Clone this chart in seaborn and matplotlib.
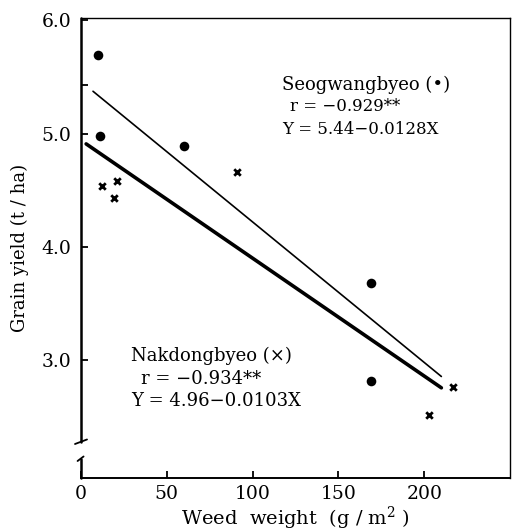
import matplotlib
matplotlib.use("Agg")
import matplotlib.pyplot as plt
import matplotlib.transforms as mtransforms
import numpy as np
import pandas as pd
import seaborn as sns

# Data
seog_x = [10, 11, 60, 169, 169]
seog_y = [5.69, 4.98, 4.89, 3.68, 2.82]
nak_x = [12, 19, 21, 91, 203, 217]
nak_y = [4.54, 4.43, 4.58, 4.66, 2.52, 2.76]

# Regression lines as drawn in the figure (intercept, slope)
seog_a, seog_b = 5.46, -0.0124
nak_a, nak_b = 4.94, -0.0104
seog_x_range = [7, 210]
nak_x_range = [3, 210]

xticks = [0, 50, 100, 150, 200]
yticks = [3.0, 4.0, 5.0, 6.0]
intercept_tick = [5.43]

sns.set_theme(style="white")
plt.rcParams["font.family"] = ["DejaVu Serif"]
plt.rcParams["mathtext.fontset"] = "dejavuserif"
for k in ["text.color", "axes.labelcolor", "xtick.color", "ytick.color"]:
    plt.rcParams[k] = "black"

fig = plt.figure(figsize=(5.18, 5.31), dpi=100)
ax = fig.add_axes([81/518, 1-478/531, (510-81)/518, (478-18)/531])

df_s = pd.DataFrame({"x": seog_x, "y": seog_y})
df_n = pd.DataFrame({"x": nak_x, "y": nak_y})
ls = pd.DataFrame({"x": seog_x_range, "y": [seog_a + seog_b*v for v in seog_x_range]})
ln = pd.DataFrame({"x": nak_x_range, "y": [nak_a + nak_b*v for v in nak_x_range]})

sns.lineplot(data=ls, x="x", y="y", ax=ax, color="black", lw=1.2)
sns.lineplot(data=ln, x="x", y="y", ax=ax, color="black", lw=2.6)
sns.scatterplot(data=df_s, x="x", y="y", ax=ax, color="black", marker="o", s=48, edgecolor="black", linewidth=0)
sns.scatterplot(data=df_n, x="x", y="y", ax=ax, color="black", marker="x", s=22, linewidth=2)

ax.set_xlim(0, 250)
ax.set_ylim(1.96, 6.02)
ax.set_xticks(xticks)
ax.set_yticks(yticks)
ax.set_yticks(intercept_tick, minor=True)
ax.set_xticklabels([str(t) for t in xticks])
ax.set_yticklabels([f"{t:.1f}" for t in yticks])
ax.tick_params(axis="both", which="both", direction="in", length=5, width=1.3,
               colors="black", labelsize=13.5, bottom=True, left=True)
ax.tick_params(axis="x", pad=5)
ax.tick_params(axis="y", pad=7)

for sp in ["top", "right"]:
    ax.spines[sp].set_color("black")
    ax.spines[sp].set_linewidth(1.0)
ax.spines["bottom"].set_color("black")
ax.spines["bottom"].set_linewidth(1.4)
ax.spines["left"].set_visible(False)

# left spine with break
tr = mtransforms.blended_transform_factory(ax.transAxes, ax.transData)
ax.plot([0, 0], [2.28, 6.02], transform=tr, color="black", lw=1.8, clip_on=False)
ax.plot([0, 0], [1.96, 2.13], transform=tr, color="black", lw=1.8, clip_on=False)
ax.plot([-0.014, 0.014], [2.26, 2.30], transform=tr, color="black", lw=1.3, clip_on=False)
ax.plot([-0.008, 0.006], [2.11, 2.15], transform=tr, color="black", lw=1.3, clip_on=False)

ax.set_xlabel("Weed  weight  (g / m$^2$ )", fontsize=14, labelpad=1)
ax.set_ylabel("Grain yield (t / ha)", fontsize=13, labelpad=9)

fs = 13
ax.text(117, 5.43, "Seogwangbyeo (•)", fontsize=fs, ha="left", va="center")
ax.text(122, 5.235, "r = −0.929**", fontsize=fs-1, ha="left", va="center")
ax.text(117, 5.04, "Y = 5.44−0.0128X", fontsize=fs-1, ha="left", va="center")

ax.text(29, 3.04, "Nakdongbyeo (×)", fontsize=fs, ha="left", va="center")
ax.text(35, 2.835, "r = −0.934**", fontsize=fs, ha="left", va="center")
ax.text(29, 2.64, "Y = 4.96−0.0103X", fontsize=fs, ha="left", va="center")

fig.savefig("out.png", dpi=100, facecolor="white")
